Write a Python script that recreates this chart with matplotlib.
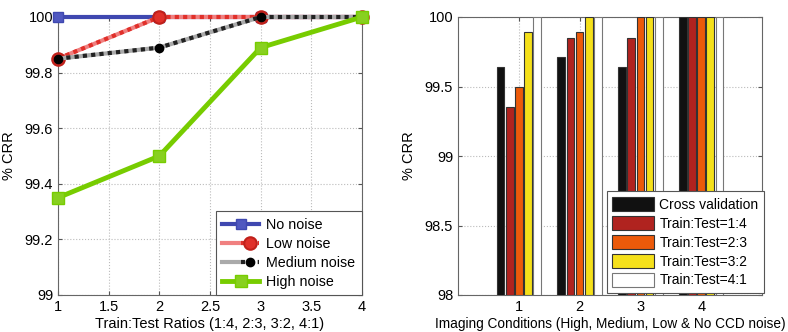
import numpy as np
import matplotlib.pyplot as plt
from matplotlib.legend_handler import HandlerTuple

plt.rcParams['font.family'] = ['Liberation Sans', 'DejaVu Sans']
plt.rcParams['font.size'] = 10.5

# left chart: CRR vs train:test ratio
ratios = [1, 2, 3, 4]
no_noise = [100, 100, 100, 100]
low_noise = [99.85, 100, 100, 100]
medium_noise = [99.85, 99.89, 100, 100]
high_noise = [99.35, 99.5, 99.89, 100]

# right chart: CRR per imaging condition
conditions = [1, 2, 3, 4]
bar_labels = ['Cross validation', 'Train:Test=1:4', 'Train:Test=2:3',
              'Train:Test=3:2', 'Train:Test=4:1']
bar_values = [
    [99.64, 99.71, 99.64, 100],
    [99.35, 99.85, 99.85, 100],
    [99.5, 99.89, 100, 100],
    [99.89, 100, 100, 100],
    [100, 100, 100, 100],
]
bar_colors = ['#111111', '#b0231f', '#ec5a0a', '#f5e01a', '#ffffff']

fig = plt.figure(figsize=(7.88, 3.32), dpi=100)
ax1 = fig.add_axes([58 / 788, 1 - 295 / 332, 304 / 788, 278 / 332])
ax2 = fig.add_axes([458 / 788, 1 - 295 / 332, 304 / 788, 278 / 332])

# --- left
h_no, = ax1.plot(ratios, no_noise, color='#3f48b0', lw=3, marker='s', ms=7.5,
                 mfc='#5058c0', mec='#3f48b0', zorder=3, clip_on=False)
h_low_bg, = ax1.plot(ratios, low_noise, color='#f08080', lw=3, zorder=4,
                     clip_on=False)
h_low, = ax1.plot(ratios, low_noise, color='#e0302a', lw=3, ls=(0, (1, 1)),
                  marker='o', ms=9, mfc='#e0302a', mec='#c0201a', mew=1.5,
                  zorder=4, clip_on=False)
h_med_bg, = ax1.plot(ratios, medium_noise, color='#aaaaaa', lw=3, zorder=5,
                     clip_on=False)
h_med, = ax1.plot(ratios, medium_noise, color='#222222', lw=3, ls=(0, (1, 1)),
                  marker='o', ms=6, mfc='black', mec='black', zorder=5,
                  clip_on=False)
h_high, = ax1.plot(ratios, high_noise, color='#77cc00', lw=3.5, marker='s', ms=8,
                   mfc='#88d020', mec='#77cc00', zorder=6, clip_on=False)

ax1.set_xlim(1, 4)
ax1.set_ylim(99, 100)
ax1.set_xticks([1, 1.5, 2, 2.5, 3, 3.5, 4])
ax1.set_xticklabels(['1', '1.5', '2', '2.5', '3', '3.5', '4'])
ax1.set_yticks([99, 99.2, 99.4, 99.6, 99.8, 100])
ax1.set_yticklabels(['99', '99.2', '99.4', '99.6', '99.8', '100'])
ax1.set_xlabel('Train:Test Ratios (1:4, 2:3, 3:2, 4:1)', labelpad=2)
ax1.set_ylabel('% CRR', labelpad=6)
ax1.grid(True, ls=':', color='#bbbbbb', lw=0.8)
leg1 = ax1.legend([h_no, (h_low_bg, h_low), (h_med_bg, h_med), h_high],
                  ['No noise', 'Low noise', 'Medium noise', 'High noise'],
                  handler_map={tuple: HandlerTuple(ndivide=None, pad=0)},
                  loc='lower right', borderaxespad=0, fancybox=False,
                  edgecolor='#555555', framealpha=1, handlelength=2.6,
                  handletextpad=0.5, borderpad=0.45,
                  labelspacing=0.35, fontsize=10.3)
leg1.get_frame().set_linewidth(0.8)
leg1.set_zorder(10)

# --- right
width = 0.15
x = np.array(conditions, dtype=float)
handles = []
for i, (vals, col, lab) in enumerate(zip(bar_values, bar_colors, bar_labels)):
    ec = '#777777' if col == '#ffffff' else '#333333'
    b = ax2.bar(x + (i - 2) * width, np.array(vals) - 98, width=width * 0.85,
                bottom=98, color=col, edgecolor=ec, linewidth=0.8, label=lab,
                zorder=3)
    handles.append(b)

ax2.set_xlim(0, 5)
ax2.set_ylim(98, 100)
ax2.set_xticks(conditions)
ax2.set_yticks([98, 98.5, 99, 99.5, 100])
ax2.set_yticklabels(['98', '98.5', '99', '99.5', '100'])
ax2.set_xlabel('Imaging Conditions (High, Medium, Low & No CCD noise)',
               labelpad=2, fontsize=9.8)
ax2.set_ylabel('% CRR', labelpad=6)
ax2.grid(True, ls=':', color='#bbbbbb', lw=0.8)
leg2 = ax2.legend(handles=handles, loc='lower right', bbox_to_anchor=(1.007, 0.007),
                  borderaxespad=0, fancybox=False, edgecolor='#555555',
                  framealpha=1, handlelength=3.0, handleheight=1.2,
                  handletextpad=0.4, borderpad=0.4,
                  labelspacing=0.3, fontsize=10)
leg2.get_frame().set_linewidth(0.8)

for ax in (ax1, ax2):
    ax.tick_params(direction='in', length=3, color='#555555', top=True, right=True)
    for s in ax.spines.values():
        s.set_color('#666666')
        s.set_linewidth(0.8)

fig.savefig('out.png', dpi=100)
